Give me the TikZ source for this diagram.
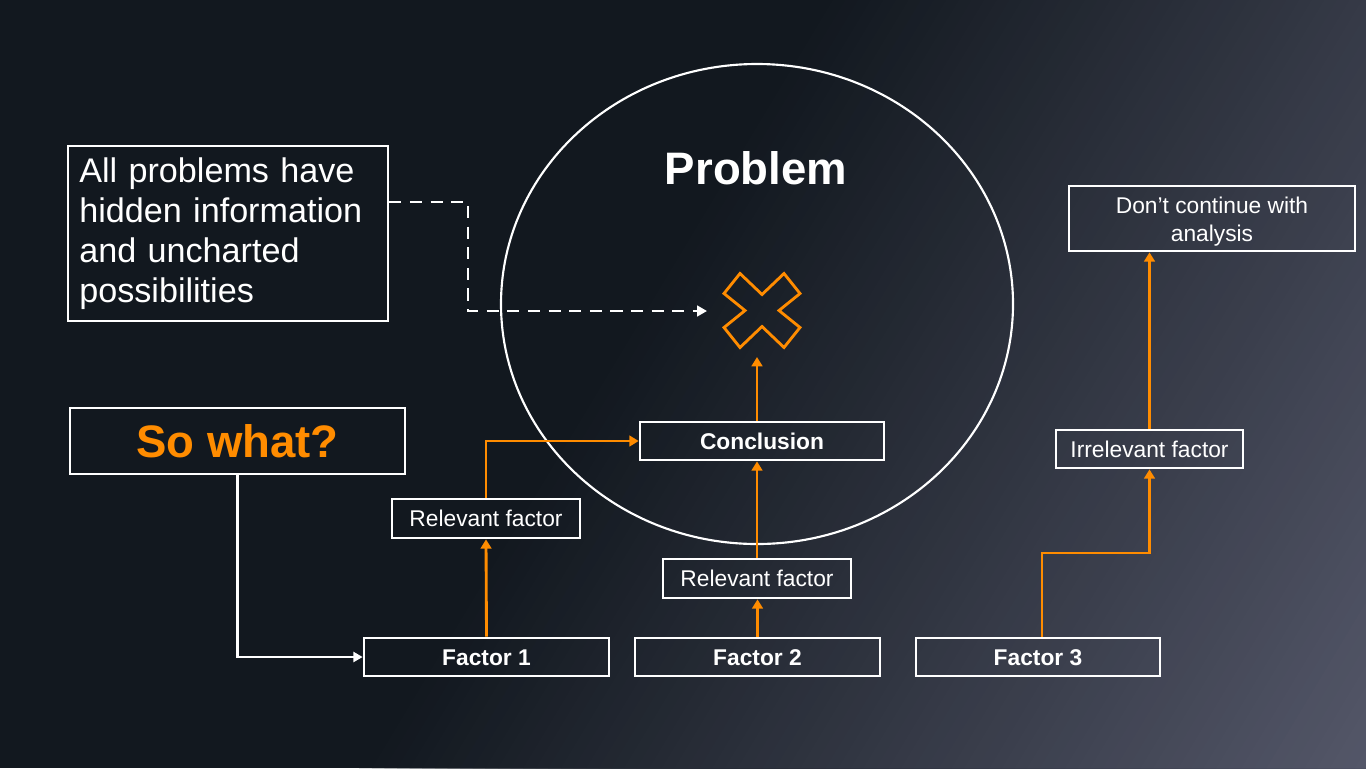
\documentclass[tikz,border=0pt]{standalone}
\usepackage{fontspec}
\setmainfont{Liberation Sans}
\usetikzlibrary{arrows.meta}
\definecolor{bgd}{HTML}{12181F}
\definecolor{bgl}{HTML}{545769}
\definecolor{orangeC}{HTML}{FF8C00}
\begin{document}
\begin{tikzpicture}[x=0.7028pt, y=-0.7028pt,
  frame/.style={draw=white, line width=1.9pt, text=white, inner sep=0pt},
  capc/.style={text height=0.716*#1pt, text depth=0pt},
  bw/.style={minimum width=#1*0.7028pt},
  bh/.style={minimum height=#1*0.7028pt},
  lbl/.style={font=\fontsize{16pt}{19.7pt}\selectfont},
  blbl/.style={font=\fontsize{16pt}{19.7pt}\selectfont\bfseries},
  oarrow/.style={draw=orangeC, line width=2pt, -{Triangle[width=7.5pt,length=6.5pt]}},
  warrow/.style={draw=white, line width=1.6pt, -{Triangle[width=7pt,length=6.5pt]}},
  darrow/.style={draw=white, line width=2pt, dash pattern=on 8.5pt off 6pt, -{Triangle[width=7.5pt,length=7pt]}},
  xmark/.style={draw=orangeC, line width=2pt, line join=miter}
]
\useasboundingbox (0,0) rectangle (1366,768);
% background
\begin{scope}
\clip (0,0) rectangle (1366,768);
\fill[bgd] (0,0) rectangle (1366,768);
\foreach \i in {0,...,80}{
  \pgfmathsetmacro{\tpos}{820+\i*12.6}
  \pgfmathsetmacro{\pc}{100*\i/80}
  \fill[bgl!\pc!bgd] (\tpos,0) -- (2400,0) -- (2400,768) -- (\tpos-460.8,768) -- cycle;
}
\end{scope}

% problem circle
\draw[white, line width=1.5pt] (757,304) ellipse [x radius=256, y radius=240];
\node[text=white, font=\fontsize{32pt}{38pt}\selectfont\bfseries, capc=32, inner sep=0pt] (prob) at (756,168) {Problem};

% X mark
\coordinate (xc) at (762,310.5);
\draw[xmark, shift={(xc)}] (0,-16) -- (22,-37) -- (38,-17) -- (17,0) -- (38,17) -- (22,37) -- (0,16) -- (-22,37) -- (-38,17) -- (-17,0) -- (-38,-17) -- (-22,-37) -- cycle;
\coordinate (xin) at (707,311);
\coordinate (xbot) at (757,357);

% boxes
\node[frame, bw=320, bh=175, text width=209pt, align=left,
      font=\fontsize{24pt}{28.1pt}\selectfont] (info) at (228,233.5)
  {\rule{0pt}{18pt}All problems have\\hidden information\\and uncharted\\possibilities};
\node[frame, capc=32, bw=335, bh=66, text=orangeC,
      font=\fontsize{32pt}{38pt}\selectfont\bfseries] (sw) at (237.5,441) {So what?};
\node[frame, capc=16, blbl, bw=244, bh=38] (concl) at (762,441) {Conclusion};
\node[frame, capc=16, lbl, bw=188, bh=39] (rf1) at (486,518.5) {Relevant factor};
\node[frame, capc=16, lbl, bw=188, bh=39] (rf2) at (757,578.5) {Relevant factor};
\node[frame, capc=16, lbl, bw=187, bh=38] (irr) at (1149.5,449) {Irrelevant factor};
\node[frame, lbl, bw=286, bh=65, align=center] (dc) at (1212,218.5) {\rule{0pt}{15.7pt}Don’t continue with\\analysis};
\node[frame, capc=16, blbl, bw=245, bh=38] (f1) at (486.5,657) {Factor 1};
\node[frame, capc=16, blbl, bw=245, bh=38] (f2) at (757.5,657) {Factor 2};
\node[frame, capc=16, blbl, bw=244, bh=38] (f3) at (1038,657) {Factor 3};

% connectors
\coordinate (d1) at (468,202);
\draw[darrow] (info.east |- d1) -- (d1) |- (xin);
\draw[warrow] (sw.south) |- (f1.west);
\draw[oarrow] (f1.north) -- (rf1.south);
\draw[oarrow] (rf1.north) |- (concl.west);
\draw[oarrow] (f2.north) -- (f2.north |- rf2.south);
\draw[oarrow] (rf2.north) -- (rf2.north |- concl.south);
\draw[oarrow] (xbot |- concl.north) -- (xbot);
\coordinate (c3) at (1100,553);
\draw[oarrow] ([xshift=4*0.7028pt]f3.north) |- (c3) -| (irr.south);
\draw[oarrow] (irr.north) -- (irr.north |- dc.south);
\end{tikzpicture}
\end{document}
